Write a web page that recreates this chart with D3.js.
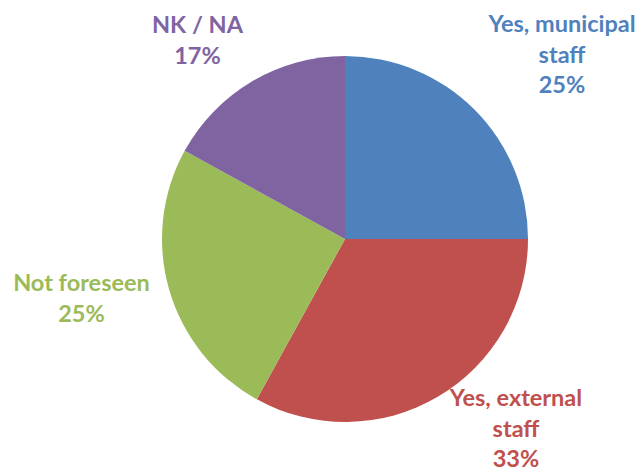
<!DOCTYPE html>
<html>
<head>
<meta charset="utf-8">
<script src="https://cdn.jsdelivr.net/npm/d3@7/dist/d3.min.js"></script>
<style>
  html, body { margin: 0; padding: 0; background: #ffffff; }
  svg { display: block; }
  .lbl { font-family: Lato, "Open Sans", sans-serif; font-weight: 700; font-size: 23.5px; }
</style>
</head>
<body>
<svg id="chart" width="639" height="468"></svg>
<script>
// Who carries out the work: shares of respondents (%)
const categories = ["Yes, municipal staff", "Yes, external staff", "Not foreseen", "NK / NA"];
const values = [25, 33, 25, 17];
const colors = ["#4F81BD", "#C0504D", "#9BBB59", "#8064A2"];
// label lines per category (the last line is the percentage)
const labelLines = [["Yes, municipal", "staff"], ["Yes, external", "staff"], ["Not foreseen"], ["NK / NA"]];
// label anchor (centre x, first baseline y)
const labelPos = [[562, 32], [516, 406], [81.5, 291], [197.5, 33]];

const svg = d3.select("#chart");
const cx = 345, cy = 239, r = 183;

const pie = d3.pie().sort(null).value(d => d)(values);
const arc = d3.arc().innerRadius(0).outerRadius(r);

const g = svg.append("g").attr("transform", `translate(${cx},${cy})`);
g.selectAll("path")
  .data(pie)
  .join("path")
  .attr("d", arc)
  .attr("fill", (d, i) => colors[i]);

const lineH = 30.5;
categories.forEach((c, i) => {
  const lines = labelLines[i].concat([values[i] + "%"]);
  const t = svg.append("text")
    .attr("class", "lbl")
    .attr("text-anchor", "middle")
    .attr("fill", colors[i]);
  lines.forEach((ln, j) => {
    t.append("tspan")
      .attr("x", labelPos[i][0])
      .attr("y", labelPos[i][1] + j * lineH)
      .text(ln);
  });
});
</script>
</body>
</html>
